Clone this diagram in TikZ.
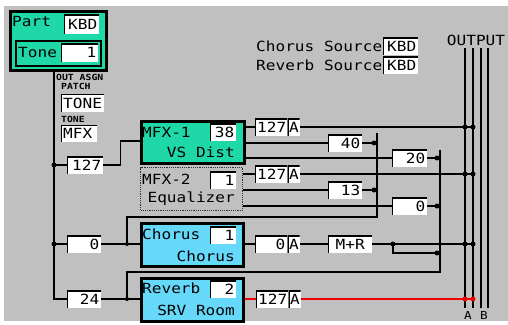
\documentclass[tikz,border=0pt]{standalone}
\usepackage{fontspec}
\usetikzlibrary{positioning,calc}
\newfontfamily\pixfont[FakeStretch=1.15]{DejaVu Sans Mono}
\newcommand\pixtxt{\pixfont\fontsize{14}{14}\selectfont}
\newcommand\pixsmall{\pixfont\bfseries\fontsize{8.5}{9}\selectfont}
\definecolor{rlgray}{HTML}{C0C0C0}
\definecolor{rlteal}{HTML}{1ED8A8}
\definecolor{rlblue}{HTML}{66D8FA}
\definecolor{rlred}{HTML}{F00000}
\tikzset{
  wire/.style    ={line width=1.6pt, draw=black},
  redwire/.style ={wire, draw=rlred},
  fxbox/.style   ={draw=black, line width=2.8pt, anchor=north west, inner sep=0pt},
  offbox/.style  ={draw=black!80, densely dotted, line width=1.2pt, anchor=north west, inner sep=0pt},
  valbox/.style  ={fill=white, anchor=west, inner xsep=2pt, inner ysep=0pt,
                   minimum height=17pt, text width=#1, align=right, font=\pixtxt,
                   path picture={\draw[line width=2.4pt]
                     (path picture bounding box.south west) --
                     (path picture bounding box.north west) --
                     (path picture bounding box.north east);}},
  tag/.style     ={font=\pixtxt, inner sep=0pt},
  small/.style   ={font=\pixsmall, inner sep=0pt, anchor=west},
  tap/.style     ={circle, fill=black, minimum size=5pt, inner sep=0pt},
  redtap/.style  ={tap, fill=rlred},
}
\begin{document}
\begin{tikzpicture}[x=1pt,y=-1pt]
  \useasboundingbox (0,0) rectangle (508,324);
  \fill[white] (0,0) rectangle (508,324);
  \fill[rlgray] (4,6) rectangle (508,321);
  % --- part / tone ---
  \node[fxbox, fill=rlteal, minimum width=96pt, minimum height=59pt] (part) at (9,10) {};
  \node[tag, anchor=west] (partlbl) at (12,21) {Part};
  \node[valbox=31pt, minimum height=19pt] (partkbd) at (64,24) {KBD};
  \node[draw=black, line width=2pt, fill=rlteal, anchor=north west, inner sep=0pt,
        minimum width=85pt, minimum height=25pt] (tone) at (15,40) {};
  \node[tag, anchor=west] (tonelbl) at (18,52.5) {Tone};
  \node[valbox=33pt, minimum height=18pt] (toneval) at (61,52.5) {1};
  \node[small] (outasgn) at (56,77) {OUT ASGN};
  \node[small] (patchlbl) at (61,86.5) {PATCH};
  \node[valbox=39pt, align=left, minimum height=18pt] (patchval) at (61,103) {TONE};
  \node[small] (tonesm) at (61,119) {TONE};
  \node[valbox=32pt, align=left] (toneasgn) at (61,133.5) {MFX};
  % --- effect blocks ---
  \node[fxbox, fill=rlteal, minimum width=103pt, minimum height=42pt] (mfxa) at (140,120) {};
  \node[tag, anchor=west] (mfxalbl) at (142,132) {MFX-1};
  \node[valbox=22pt] (mfxanum) at (210,132) {38};
  \node[tag, anchor=east] (mfxatype) at (235,152) {VS Dist};
  \node[offbox, minimum width=102pt, minimum height=43pt] (mfxb) at (140,167) {};
  \node[tag, anchor=west] (mfxblbl) at (142,179) {MFX-2};
  \node[valbox=22pt] (mfxbnum) at (210,180) {1};
  \node[tag, anchor=east] (mfxbtype) at (235,199) {Equalizer};
  \node[fxbox, fill=rlblue, minimum width=102pt, minimum height=43pt] (chorus) at (140,222) {};
  \node[tag, anchor=west] (cholbl) at (142,234) {Chorus};
  \node[valbox=22pt] (chonum) at (210,235) {1};
  \node[tag, anchor=east] (chotype) at (235,256) {Chorus};
  \node[fxbox, fill=rlblue, minimum width=102pt, minimum height=43pt] (reverb) at (140,277) {};
  \node[tag, anchor=west] (revlbl) at (142,288) {Reverb};
  \node[valbox=22pt] (revnum) at (210,289) {2};
  \node[tag, anchor=east] (revtype) at (235,310) {SRV Room};
  % --- source / output labels ---
  \node[tag, anchor=west] (chosrc) at (256,46) {Chorus Source};
  \node[valbox=31pt] (chosrcval) at (383,46) {KBD};
  \node[tag, anchor=west] (revsrc) at (256,65) {Reverb Source};
  \node[valbox=31pt] (revsrcval) at (383,65) {KBD};
  \node[tag] (outlbl) at (476,40) {OUTPUT};
  \node[tag, font=\pixfont\fontsize{11}{11}\selectfont] (lblA) at (468,315) {A};
  \node[tag, font=\pixfont\fontsize{11}{11}\selectfont] (lblB) at (484,315) {B};
  % --- output bus ---
  \foreach \x/\n in {465/busAL,473/busAR,481/busBL,488/busBR}
    \draw[wire] (\x,48) coordinate (\n) -- ++(0,260);
  % --- send levels ---
  \node[valbox=28pt] (mfxalvl) at (255,127) {127};
  \node[valbox=9pt, inner xsep=1.5pt] (mfxapan) at (mfxalvl.east) {A};
  \node[valbox=30pt] (mfxacho) at (328,143) {40};
  \node[valbox=31pt] (mfxarev) at (392,158) {20};
  \node[valbox=28pt] (mfxblvl) at (255,174) {127};
  \node[valbox=9pt, inner xsep=1.5pt] (mfxbpan) at (mfxblvl.east) {A};
  \node[valbox=30pt] (mfxbcho) at (328,190) {13};
  \node[valbox=31pt] (mfxbrev) at (392,206) {0};
  \node[valbox=28pt] (cholvl) at (255,244) {0};
  \node[valbox=9pt, inner xsep=1.5pt] (chopan) at (cholvl.east) {A};
  \node[valbox=40pt, align=center] (chomode) at (328,244) {M+R};
  \node[valbox=28pt] (revlvl) at (256,299) {127};
  \node[valbox=9pt, inner xsep=1.5pt] (revpan) at (revlvl.east) {A};
  % --- input trunk ---
  \coordinate (trunk) at (54,69);
  \node[valbox=32pt] (inmfx) at (67,165) {127};
  \node[valbox=30pt] (incho) at (67,244) {0};
  \node[valbox=30pt] (inrev) at (67,299) {24};
  \draw[wire] (trunk) |- (inrev.west);
  \draw[wire] (trunk |- inmfx) -- (inmfx.west);
  \draw[wire] (trunk |- incho) -- (incho.west);
  \node[tap] (tapmfx) at (trunk |- inmfx) {};
  \node[tap] (tapcho) at (trunk |- incho) {};
  \coordinate (mfxain) at (140,141);
  \draw[wire] (inmfx.east) -- ++(17,0) |- (mfxain);
  \draw[wire] (incho.east) -- (incho.east -| chorus.west);
  \draw[wire] (inrev.east) -- (inrev.east -| reverb.west);
  % --- chorus / reverb buses ---
  \coordinate (chotop) at (377,133);
  \coordinate (chobot) at (377,217);
  \coordinate (chosum) at (127,244);
  \coordinate (revtop) at (440,150);
  \coordinate (revbot) at (440,272);
  \coordinate (revsum) at (127,299);
  \draw[wire] (chotop) -- (chobot) -| (chosum);
  \draw[wire] (revtop) -- (revbot) -| (revsum);
  \node[tap, minimum size=4pt] (tapchosum) at (chosum) {};
  \node[tap, minimum size=4pt] (taprevsum) at (revsum) {};
  % --- mfx outputs ---
  \foreach \src/\lvl/\pan/\cho/\rev in {mfxa/mfxalvl/mfxapan/mfxacho/mfxarev,
                                        mfxb/mfxblvl/mfxbpan/mfxbcho/mfxbrev}{
    \draw[wire] (\src.east |- \lvl) -- (\lvl.west);
    \draw[wire] (\pan.east) -- (busAR |- \pan);
    \draw[wire] (\src.east |- \cho) -- (\cho.west);
    \draw[wire] (\cho.east) -- (chotop |- \cho);
    \draw[wire] (\src.east |- \rev) -- (\rev.west);
    \draw[wire] (\rev.east) -- (revtop |- \rev);
    \node[tap, xshift=-3pt] (tap\cho) at (chotop |- \cho) {};
    \node[tap, xshift=-3pt] (tap\rev) at (revtop |- \rev) {};
    \node[tap] (tapL\pan) at (busAL |- \pan) {};
    \node[tap] (tapR\pan) at (busAR |- \pan) {};
  }
  % --- chorus output ---
  \draw[wire] (chorus.east |- cholvl) -- (cholvl.west);
  \draw[wire] (chopan.east) -- (chomode.west);
  \draw[wire] (chomode.east) -- (busAR |- chomode);
  \coordinate (chotap) at (393,244);
  \coordinate (chorev) at (440,253);
  \draw[wire] (chotap) |- (chorev);
  \node[tap] (tapchomode) at (chotap) {};
  \node[tap, xshift=-3pt] (tapchorev) at (chorev) {};
  \node[tap] (tapLcho) at (busAL |- chomode) {};
  \node[tap] (tapRcho) at (busAR |- chomode) {};
  % --- reverb output ---
  \draw[redwire] (reverb.east |- revlvl) -- (revlvl.west);
  \draw[redwire] (revpan.east) -- (busAR |- revpan);
  \node[redtap] (tapLrev) at (busAL |- revpan) {};
  \node[redtap] (tapRrev) at (busAR |- revpan) {};
\end{tikzpicture}
\end{document}
